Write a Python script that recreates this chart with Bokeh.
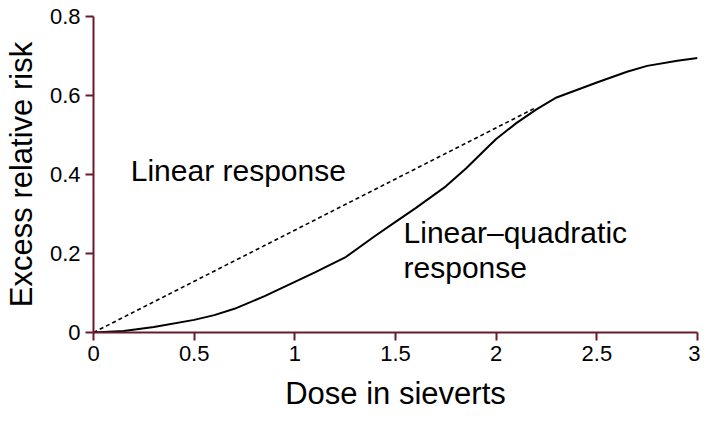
from bokeh.plotting import figure
from bokeh.embed import file_html
from bokeh.resources import INLINE
from bokeh.models import Range1d, FixedTicker, Label

lq_dose = [0, 0.15, 0.3, 0.5, 0.6, 0.7, 0.85, 1.0, 1.1, 1.25, 1.4, 1.5, 1.6, 1.75, 1.85, 1.95, 2.0, 2.1, 2.2, 2.3, 2.5, 2.65, 2.75, 2.9, 3.0]
lq_risk = [0, 0.004, 0.014, 0.032, 0.044, 0.06, 0.092, 0.128, 0.152, 0.19, 0.245, 0.28, 0.315, 0.37, 0.415, 0.465, 0.49, 0.53, 0.565, 0.595, 0.633, 0.66, 0.675, 0.688, 0.695]
lin_dose = [0, 2.2]
lin_risk = [0, 0.57]
xticks = [0, 0.5, 1, 1.5, 2, 2.5, 3]
yticks = [0, 0.2, 0.4, 0.6, 0.8]

axc = "#6b1a2a"
p = figure(width=700, height=413, output_backend="svg", toolbar_location=None,
           x_range=Range1d(0, 3), y_range=Range1d(0, 0.8),
           min_border_left=84, min_border_right=3, min_border_top=16, min_border_bottom=80)
p.outline_line_color = None
p.grid.visible = False
p.line(lq_dose, lq_risk, line_color="black", line_width=2)
p.line(lin_dose, lin_risk, line_color="black", line_width=1.6, line_dash="4 3")

for ax, ticks in ((p.xaxis[0], xticks), (p.yaxis[0], yticks)):
    ax.ticker = FixedTicker(ticks=ticks)
    ax.axis_line_color = axc
    ax.axis_line_width = 2
    ax.major_tick_line_color = axc
    ax.major_tick_line_width = 2
    ax.major_tick_out = 8
    ax.major_tick_in = 0
    ax.minor_tick_line_color = None
    ax.major_label_text_font = "Liberation Sans"
    ax.major_label_text_font_size = "22px"
    ax.major_label_text_color = "black"
    ax.axis_label_text_font = "Liberation Sans"
    ax.axis_label_text_font_size = "31px"
    ax.axis_label_text_font_style = "normal"
    ax.axis_label_text_color = "black"
p.xaxis.major_label_overrides = {0: "0", 1: "1", 2: "2", 3: "3"}
p.yaxis.major_label_overrides = {0: "0"}
p.xaxis.axis_label = "Dose in sieverts"
p.yaxis.axis_label = "Excess relative risk"
p.xaxis.axis_label_standoff = 12
p.yaxis.axis_label_standoff = 8

for t, x, y in (("Linear response", 0.185, 0.368), ("Linear\u2013quadratic", 1.54, 0.212), ("response", 1.54, 0.124)):
    p.add_layout(Label(x=x, y=y, text=t, text_font="Liberation Sans", text_font_size="30px", text_color="black"))

open("out.html", "w").write(file_html(p, INLINE))
